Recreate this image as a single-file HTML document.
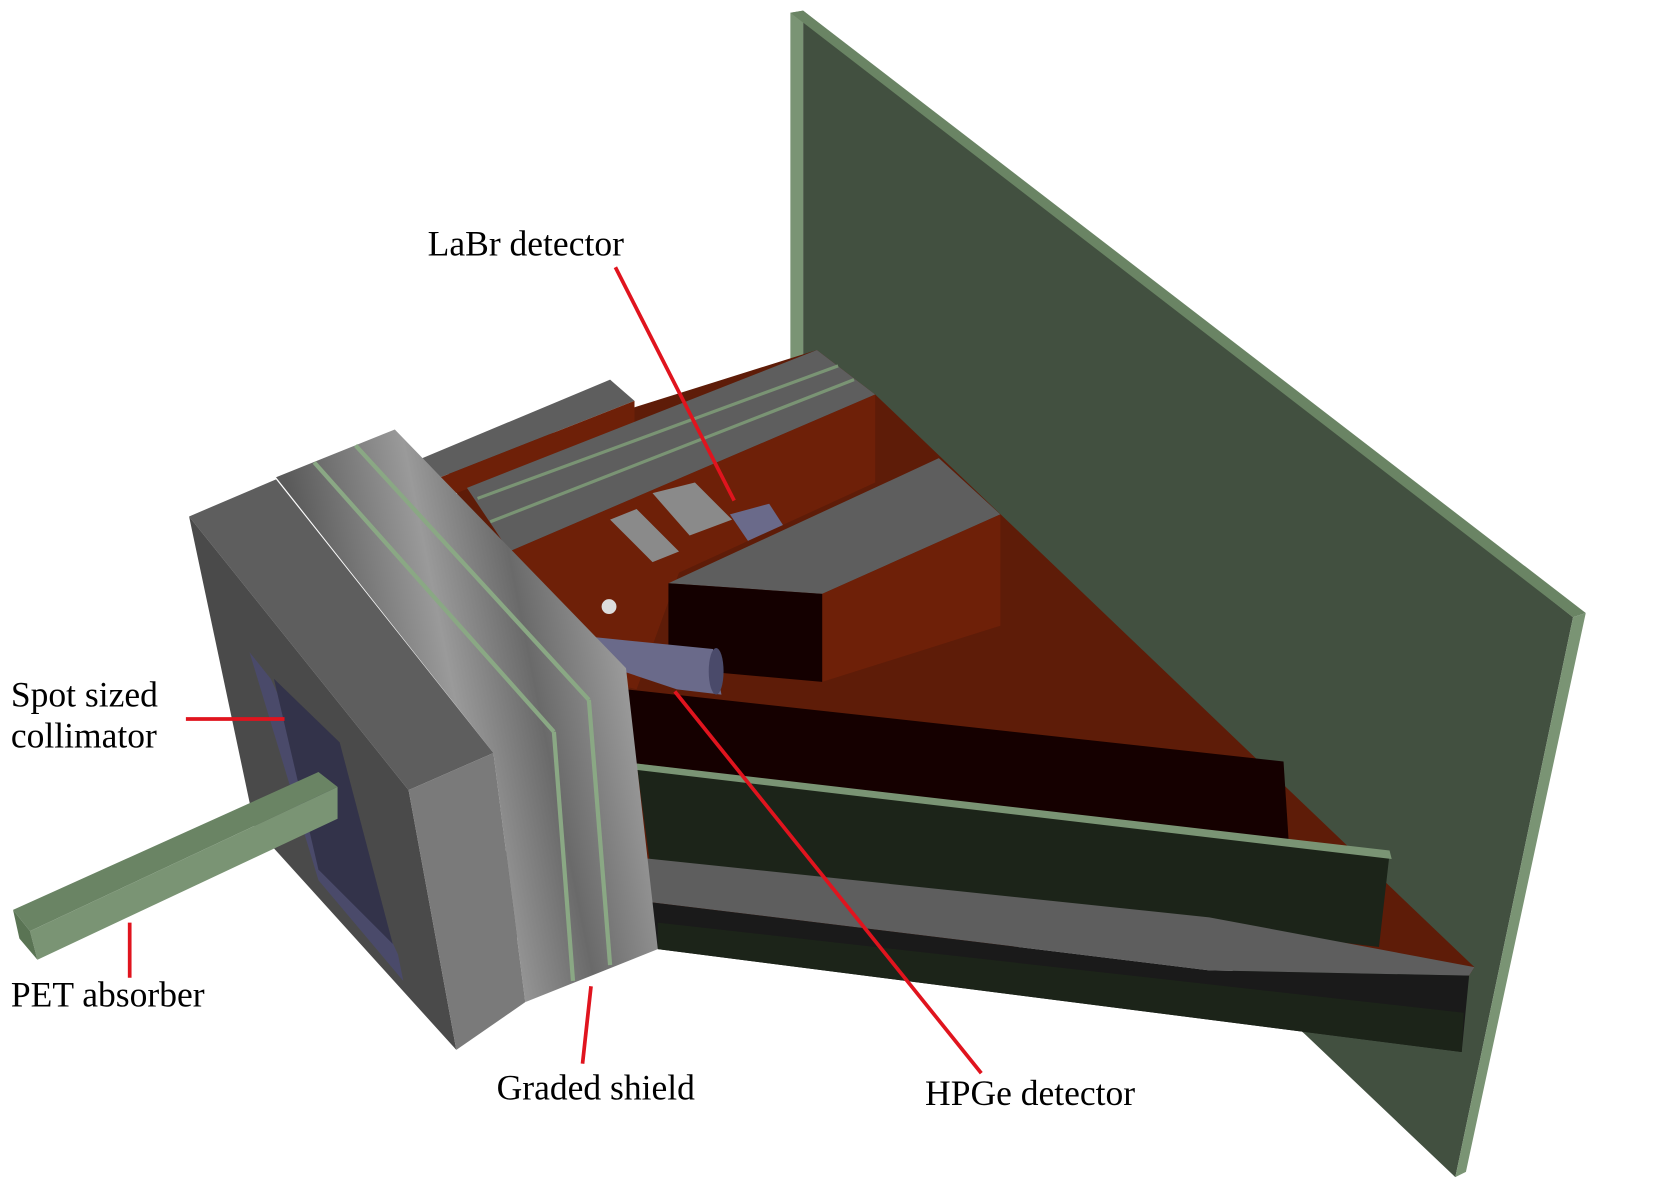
<!DOCTYPE html>
<html><head><meta charset="utf-8"><style>
html,body{margin:0;padding:0;background:#fff;}
svg{display:block;}
text{font-family:"Liberation Serif",serif;font-size:33.5px;fill:#000;}
</style></head><body>
<svg width="1655" height="1192" viewBox="0 0 1560 1124" xmlns="http://www.w3.org/2000/svg">
<defs>
<linearGradient id="shield" x1="0" y1="0" x2="1" y2="-0.3">
<stop offset="0" stop-color="#5a5a5a"/><stop offset="0.3" stop-color="#9a9a9a"/><stop offset="0.5" stop-color="#6a6a6a"/><stop offset="0.75" stop-color="#a0a0a0"/><stop offset="1" stop-color="#707070"/>
</linearGradient>
</defs>
<g>
<polygon points="757,10 1483,582 1372,1110 1230,975 757,560" fill="#425040"/>
<polygon points="745,12 757,10 757,560 745,560" fill="#7a9474"/>
<polygon points="745,12 757,10 1495,578 1483,582" fill="#6a8464"/>
<polygon points="1483,582 1495,578 1382,1105 1372,1110" fill="#7a9474"/>
</g>
<g>
<polygon points="420,440 770,330 825,372 1390,912 1385,920 600,870" fill="#5e1c08"/>
</g>
<g>
<polygon points="398,432 575,358 598,378 415,450" fill="#5e5e5e"/>
<polygon points="415,450 598,378 598,402 430,465" fill="#6e2008"/>
</g>
<g>
<polygon points="440,460 770,330 825,372 480,520" fill="#5e5e5e"/>
<line x1="450" y1="470" x2="790" y2="345" stroke="#7a9474" stroke-width="3"/>
<line x1="462" y1="492" x2="805" y2="358" stroke="#7a9474" stroke-width="3"/>
<polygon points="480,520 825,372 825,455 640,540 600,650 560,640" fill="#6e2008"/>
</g>
<g>
<polygon points="540,500 575,490 615,530 600,595 548,590" fill="#6e2008"/>
<polygon points="575,490 615,530 640,520 600,480" fill="#8a8a8a"/>
<polygon points="615,465 655,455 690,490 650,505" fill="#8a8a8a"/>
<circle cx="574" cy="572" r="7" fill="#ddd"/>
<polygon points="688,485 725,475 738,495 705,510" fill="#6a6a8a"/>
</g>
<g>
<polygon points="630,550 885,432 943,485 775,560" fill="#5e5e5e"/>
<polygon points="775,560 943,485 943,590 775,643" fill="#6e2008"/>
<polygon points="630,550 775,560 775,643 630,630" fill="#140000"/>
</g>
<g>
<polygon points="590,650 1210,718 1215,795 600,720" fill="#150000"/>
</g>
<g>
<polygon points="600,720 1310,805 1300,893 612,810" fill="#1c2419"/>
<polygon points="600,720 1310,802 1312,810 600,726" fill="#7a9474"/>
</g>
<g>
<polygon points="552,600 672,612 680,655 638,650 548,620" fill="#6a6a8a"/>
<ellipse cx="675" cy="633" rx="7" ry="22" fill="#4a4a6a"/>
</g>
<g>
<polygon points="445,815 490,797 1140,865 1390,912 1385,920 1140,915 525,840 485,886" fill="#5e5e5e"/>
<polygon points="445,815 485,850 485,886 460,845" fill="#4a4a4a"/>
<polygon points="525,840 1140,915 1385,920 1378,992 620,895" fill="#1a1a1a"/>
<polygon points="620,870 1380,955 1378,992 620,895" fill="#1c2419"/>
</g>
<g>
<polygon points="260,450 372,405 590,630 620,895 495,945 465,710" fill="url(#shield)"/>
<line x1="296" y1="436" x2="522" y2="690" stroke="#8aa884" stroke-width="4"/>
<line x1="335" y1="420" x2="555" y2="660" stroke="#8aa884" stroke-width="4"/>
<line x1="522" y1="690" x2="540" y2="925" stroke="#8aa884" stroke-width="4"/>
<line x1="555" y1="660" x2="575" y2="910" stroke="#8aa884" stroke-width="4"/>
</g>
<g>
<polygon points="178,487 260,452 465,710 385,745" fill="#5e5e5e"/>
<polygon points="178,487 385,745 430,990 240,780" fill="#4a4a4a"/>
<polygon points="385,745 465,710 495,945 430,990" fill="#7a7a7a"/>
<polygon points="235,615 255,640 375,900 380,925 300,830" fill="#4a4a6a"/>
<polygon points="258,640 320,700 370,890 300,820" fill="#33334a"/>
</g>
<g>
<polygon points="12,858 300,728 318,742 28,878" fill="#6a8464"/>
<polygon points="28,878 318,742 318,772 35,905" fill="#7a9474"/>
<polygon points="12,858 28,878 35,905 18,885" fill="#5a7454"/>
</g>
<g stroke="#e0141e" stroke-width="3.5" fill="none">
<line x1="175" y1="678" x2="268" y2="678"/>
<line x1="122" y1="870" x2="122" y2="922"/>
<line x1="549" y1="1003" x2="557" y2="930"/>
<line x1="580" y1="252" x2="692" y2="472"/>
<line x1="636" y1="652" x2="925" y2="1012"/>
</g>
<text x="403" y="241">LaBr detector</text>
<text x="10" y="666">Spot sized</text>
<text x="10" y="705">collimator</text>
<text x="10" y="949">PET absorber</text>
<text x="468" y="1037">Graded shield</text>
<text x="872" y="1042">HPGe detector</text>
</svg>
</body></html>
